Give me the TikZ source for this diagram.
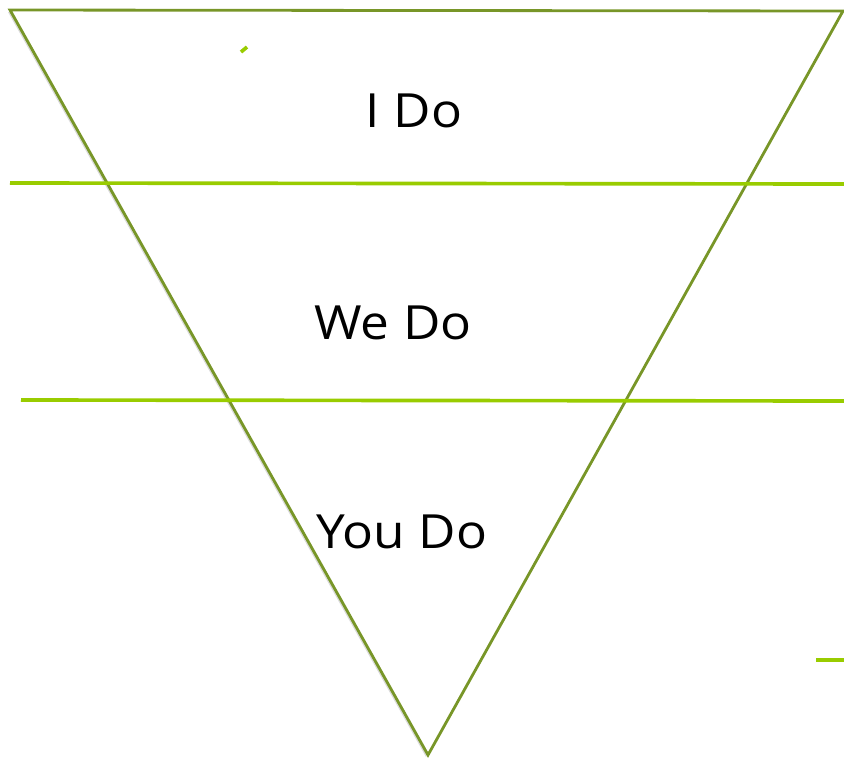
\documentclass[tikz,border=0pt]{standalone}
\usepackage{fontspec}
\setmainfont{Open Sans}
\newfontfamily\stagefont[FakeStretch=1.09]{Open Sans}
\usepackage{tikz}
\usetikzlibrary{positioning, calc}
\definecolor{mygreen}{RGB}{153,204,0}
\definecolor{myolive}{RGB}{120,150,40}
\definecolor{myshade}{RGB}{150,150,150}
\tikzset{
  bandline/.style={color=mygreen, line width=2.6pt},
  tribox/.style={draw=myolive, fill=white, line width=2pt, line join=miter},
  stage/.style={font=\stagefont\fontsize{33.5}{36}\selectfont, inner sep=0pt, text=black}
}
\begin{document}
\begin{tikzpicture}[x=0.025cm, y=-0.025cm]
  \useasboundingbox (0,0) rectangle (844,759);

  % Triangle corners
  \coordinate (tl) at (10,10);
  \coordinate (tr) at (843,11);
  \coordinate (bt) at (428,755);

  % Shadow and triangle
  \fill[myshade, opacity=0.35] ($(tl)+(-2,2)$) -- ($(tr)+(-2,2)$) -- ($(bt)+(-2,2)$) -- cycle;
  \draw[tribox] (tl) -- (tr) -- (bt) -- cycle;

  % Band lines
  \coordinate (a1) at (10,183);
  \coordinate (a2) at (844,184);
  \coordinate (b1) at (21,400);
  \coordinate (b2) at (844,401);
  \draw[bandline] (a1) -- (a2);
  \draw[bandline] (b1) -- (b2);

  % Stray marks
  \coordinate (s1) at (241,52);
  \coordinate (s2) at (247,47);
  \draw[bandline] (s1) -- (s2);
  \coordinate (m1) at (816,660);
  \coordinate (m2) at (844,660);
  \draw[bandline] (m1) -- (m2);

  % Stages
  \node[stage] (ido) at (414,111) {I Do};
  \node[stage] (wedo) at (393,323) {We Do};
  \node[stage] (youdo) at (402,532) {You Do};
\end{tikzpicture}
\end{document}
